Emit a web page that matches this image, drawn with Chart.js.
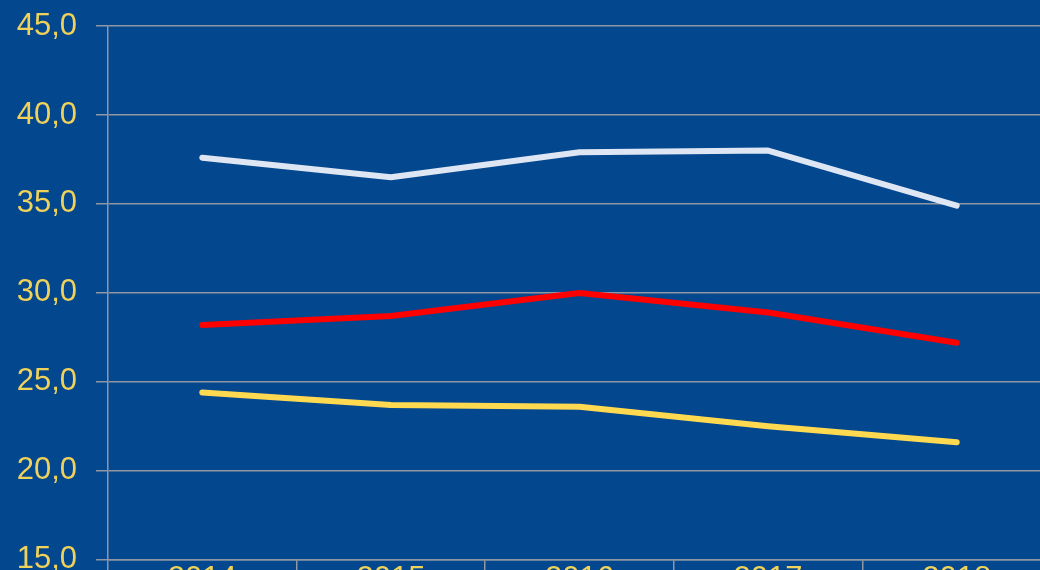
<!DOCTYPE html>
<html>
<head>
<meta charset="utf-8">
<script src="https://cdn.jsdelivr.net/npm/chart.js@4/dist/chart.umd.min.js"></script>
<style>
  html, body { margin: 0; padding: 0; overflow: hidden; background: #03478f; }
  #wrap { position: absolute; left: 0; top: 0; width: 1060px; height: 600px; }
</style>
</head>
<body>
<div id="wrap"><canvas id="myChart" width="1060" height="600"></canvas></div>
<script>
// categories and series
const years = ['2014', '2015', '2016', '2017', '2018'];
const whiteSeries = [37.6, 36.5, 37.9, 38.0, 34.9];
const redSeries = [28.2, 28.7, 30.0, 28.9, 27.2];
const yellowSeries = [24.4, 23.7, 23.6, 22.5, 21.6];
const yMin = 15, yMax = 45, yStep = 5;

const labelColor = '#f0d25a';
const gridColor = '#9097a3';

function lineSet(data, color) {
  return {
    data: data,
    borderColor: color,
    borderWidth: 6,
    pointRadius: 0,
    borderCapStyle: 'round',
    borderJoinStyle: 'round',
    tension: 0
  };
}

const chart = new Chart(document.getElementById('myChart'), {
  type: 'line',
  data: {
    labels: years,
    datasets: [
      lineSet(whiteSeries, '#dde6f2'),
      lineSet(redSeries, '#ff0000'),
      lineSet(yellowSeries, '#ffd94f')
    ]
  },
  options: {
    responsive: false,
    animation: false,
    layout: { padding: { top: 26, right: 9, bottom: 13, left: 0 } },
    plugins: { legend: { display: false }, tooltip: { enabled: false } },
    scales: {
      x: {
        offset: true,
        grid: { offset: true, drawOnChartArea: false, color: gridColor, lineWidth: 1.5, tickLength: 12 },
        border: { color: gridColor, width: 1.5 },
        ticks: { color: labelColor, font: { family: 'Liberation Sans, Arial', size: 31 }, padding: -11, maxRotation: 0 }
      },
      y: {
        min: yMin,
        max: yMax,
        // fixed axis width, and no extra room for the half label at the top
        afterFit: (s) => { s.width = 108; s.paddingTop = 0; s.paddingBottom = 0; },
        grid: { color: gridColor, lineWidth: 1.5, tickLength: 12 },
        border: { color: gridColor, width: 1.5 },
        ticks: {
          stepSize: yStep,
          color: labelColor,
          padding: 19,
          font: { family: 'Liberation Sans, Arial', size: 31 },
          callback: (v) => v.toFixed(1).replace('.', ',')
        }
      }
    }
  }
});
</script>
</body>
</html>
